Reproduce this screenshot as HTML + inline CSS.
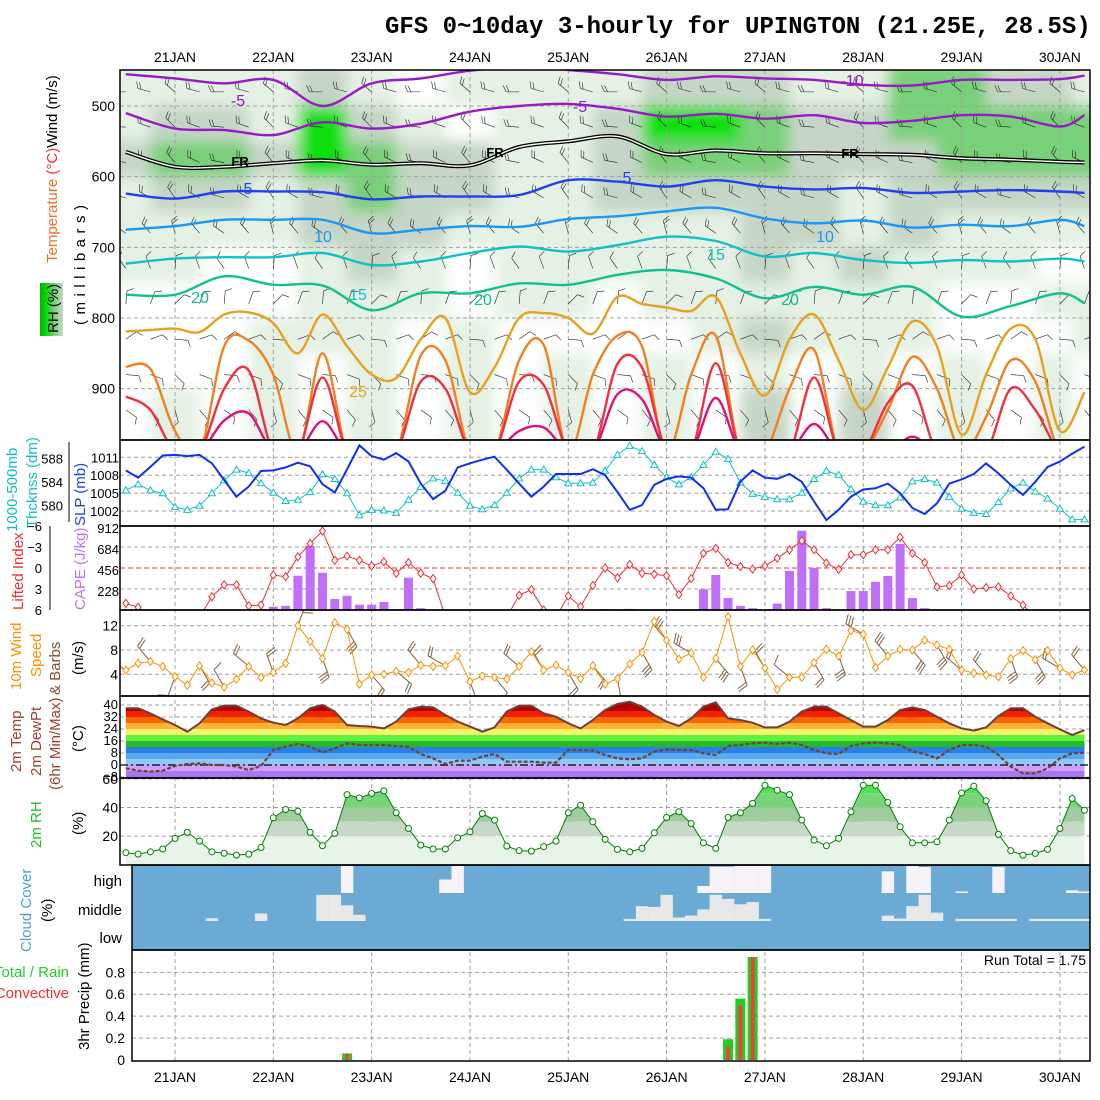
<!DOCTYPE html>
<html><head><meta charset="utf-8"><title>GFS meteogram UPINGTON</title>
<style>
html,body{margin:0;padding:0;background:#fff;}
svg{display:block;font-family:"Liberation Sans",sans-serif;}
</style></head>
<body>
<svg id="chart" xmlns="http://www.w3.org/2000/svg" width="1100" height="1100" viewBox="0 0 1100 1100">
<defs>
<clipPath id="cTop"><rect x="120" y="70" width="970" height="370"/></clipPath>
<clipPath id="cSlp"><rect x="120" y="440" width="970" height="86"/></clipPath>
<clipPath id="cLi"><rect x="120" y="526" width="970" height="84"/></clipPath>
<clipPath id="cW"><rect x="120" y="610" width="970" height="86"/></clipPath>
<clipPath id="cT"><rect x="120" y="696" width="970" height="82"/></clipPath>
<clipPath id="cTempArea"><path id="tempAreaPath" d=""/></clipPath>
<clipPath id="cRhArea"><path id="rhAreaPath" d=""/></clipPath>
<filter id="blur" x="-5%" y="-5%" width="110%" height="110%"><feGaussianBlur stdDeviation="7"/></filter>
<linearGradient id="rhKey" x1="0" y1="0" x2="1" y2="0">
<stop offset="0" stop-color="#00b000"/><stop offset="0.35" stop-color="#10e010"/><stop offset="0.6" stop-color="#78d078"/><stop offset="1" stop-color="#c6d6c6"/></linearGradient>
</defs>
<rect x="0" y="0" width="1100" height="1100" fill="#fff"/>
<text x="385" y="33" font-family="Liberation Mono, monospace" font-weight="bold" font-size="24">GFS 0~10day 3-hourly for UPINGTON (21.25E, 28.5S)</text>

<g id="gTopBg" clip-path="url(#cTop)"><g id="gRh" filter="url(#blur)"></g></g>
<g id="gGrid"></g>
<g id="gTop" clip-path="url(#cTop)"></g>
<g id="gSlp"></g>
<g id="gLi"></g>
<g id="gW"></g>
<g id="gT"></g>
<g id="gRH2"></g>
<g id="gCloud"></g>
<g id="gPr"></g>
<g id="gFrames"></g>
<g id="gLabels"></g>

<g font-size="15">
<text transform="translate(57,263) rotate(-90)"><tspan fill="#f07020">Temperature</tspan><tspan fill="#f03030"> (°C)</tspan><tspan fill="#000">Wind (m/s)</tspan></text>
<rect x="40" y="283" width="23" height="53" fill="url(#rhKey)"/>
<text transform="translate(58,333) rotate(-90)" fill="#000">RH (%)</text>
<text transform="translate(85,325) rotate(-90)" fill="#000" letter-spacing="5.5">(millibars)</text>
<text transform="translate(17,532) rotate(-90)" fill="#10c0c0">1000-500mb</text>
<text transform="translate(37,528) rotate(-90)" fill="#10c0c0">Thcknss (dm)</text>
<text transform="translate(85,526) rotate(-90)" fill="#2040f0">SLP (mb)</text>
<text transform="translate(23,610) rotate(-90)" fill="#f03030">Lifted Index</text>
<text transform="translate(85,610) rotate(-90)" fill="#c070f8">CAPE (J/kg)</text>
<text transform="translate(21,690) rotate(-90)" fill="#ff9000">10m Wind</text>
<text transform="translate(41,677) rotate(-90)" fill="#ff9000">Speed</text>
<text transform="translate(60,695) rotate(-90)" fill="#805030">&amp; Barbs</text>
<text transform="translate(83,675) rotate(-90)" fill="#000">(m/s)</text>
<text transform="translate(21,772) rotate(-90)" fill="#a04030">2m Temp</text>
<text transform="translate(41,776) rotate(-90)" fill="#a04030">2m DewPt</text>
<text transform="translate(60,790) rotate(-90)" fill="#a04030">(6hr Min/Max)</text>
<text transform="translate(83,752) rotate(-90)" fill="#000">(°C)</text>
<text transform="translate(41,848) rotate(-90)" fill="#20c020">2m RH</text>
<text transform="translate(83,835) rotate(-90)" fill="#000">(%)</text>
<text transform="translate(31,952) rotate(-90)" fill="#50a0d8">Cloud Cover</text>
<text transform="translate(52,922) rotate(-90)" fill="#000">(%)</text>
<text x="122" y="886" text-anchor="end">high</text>
<text x="122" y="915" text-anchor="end">middle</text>
<text x="122" y="943" text-anchor="end">low</text>
<text x="69" y="977" text-anchor="end" fill="#20d020">Total / Rain</text>
<text x="69" y="998" text-anchor="end" fill="#f03030">Convective</text>
<text transform="translate(89,1050) rotate(-90)" fill="#000">3hr Precip (mm)</text>
<text x="1086" y="965" text-anchor="end" font-size="14" fill="#000">Run Total = 1.75</text>
</g>
</svg>
<script>
// ---------------- DATA ----------------
const dayLabels=["21JAN","22JAN","23JAN","24JAN","25JAN","26JAN","27JAN","28JAN","29JAN","30JAN"];
const slp=[1008.8,1007.6,1009.4,1011.3,1011.4,1011.2,1011.4,1010,1007.2,1004.4,1006.1,1008.7,1008.8,1009.3,1010.1,1009.5,1006.5,1005.1,1009,1013,1011.2,1010.6,1011.7,1010.3,1006.6,1004,1005.4,1009.3,1010,1010.6,1011.1,1008.9,1006.6,1004.4,1006.1,1008.2,1008.2,1008.2,1009,1008,1005.2,1002.2,1003,1006.4,1007.4,1007.8,1007.6,1005.8,1002.2,1002.3,1006.9,1008.8,1007.6,1007.4,1008.2,1006.9,1003.6,1000.5,1002.2,1004.4,1005.6,1005.8,1006.6,1005,1002.5,1001.5,1003.3,1006.6,1007.3,1008.2,1010,1008.3,1006.4,1004.7,1006.9,1009.4,1010.3,1011.6,1012.8];
const thk=[582.6,583.6,582.6,582.1,579.8,579.3,580,582.1,584.3,586.1,585.5,583.8,582.2,580.8,581,582.3,585.3,584.5,582.1,578.4,579.3,579.2,578.8,581,583.2,584.6,584.2,582.2,580,579.4,580.1,582.2,584.6,586.1,586.1,584.8,583.8,583.8,583.9,585.9,588.6,590.1,589.2,586.9,584.8,583.6,584.8,586.9,589.1,587.9,583.9,582,581.5,581.1,581.1,582.2,584.5,585.9,585.2,582.8,580.7,580.1,580.1,581.4,584.1,584.5,583.9,581.5,579.5,578.8,578.6,580.6,582.9,583.9,582.4,581.2,579.5,577.7,577.7];
const cape=[0,0,0,0,0,0,0,0,0,0,0,0,36,45,372,698,405,119,155,58,58,88,10,351,20,0,0,0,0,0,0,0,0,0,0,0,0,0,0,10,0,12,0,0,0,0,0,225,380,130,45,20,0,70,423,861,456,20,0,206,206,307,370,717,130,20,0,0,0,0,0,0,0,0,0,0,0,0,0];
const li=[5.05,5.6,7,7,7,7,7,4.1,2.4,2.4,5.4,5.3,1.0,1.24,-1.6,-3.5,-5.3,-1.1,-1.7,-1.1,-0.3,-0.9,0.76,-0.8,0.76,1.5,7,7,7,7,7,7,3.9,3.1,6,7,4.0,5.5,2.5,0,1.4,-0.5,0.76,0.9,1.1,3.8,1.5,-2.1,-2.8,-0.8,-0.2,0.14,-0.3,-1.4,-2.6,-3.9,-2.6,-0.7,0.2,-1.9,-1.9,-2.6,-2.6,-4.4,-2.1,-0.8,2.7,2.5,1.0,3.0,2.8,2.7,4.0,5.3,7,7,7,7,7];
const windSpd=[4.7,5.8,6.1,5.3,3.6,2.2,5.4,2.6,1.9,3.2,5.3,3.5,4.3,5.8,12,9.4,6.6,12.5,11.4,2.4,3.9,4,4.5,4.3,5.5,5.3,5.4,7,2.8,3.7,3.5,3.2,5.3,7.7,4.7,5.5,4.3,3.3,5.4,2.4,3.3,5.7,7.6,12.7,9.6,6.5,7.5,3.5,6.6,13.5,5.3,8,5,1.5,3.5,3.5,5.9,8.1,7,11.2,10.6,5.1,7,8.1,8,9.6,8.8,8.1,4.7,4.2,3.9,3.6,6.6,7.9,6.4,7.9,5,3.9,4.7];
const windDir6h=[300,320,200,150,330,310,340,20,160,150,140,130,320,300,160,140,310,330,150,140,170,150,320,300,140,160,330,310,150,160,300,320,140,150,310,320,160,150,300,320];
const temp2m=[37.8,37.8,34.4,30.4,26.7,22.2,27.8,37.1,39.6,39.6,35.6,31.1,28.2,26.7,31.1,37.8,40,35.6,26.7,26,25.6,24.4,28.9,37.1,38.9,38.4,33.3,28.9,25.6,22.2,25.1,35.6,39.6,39.6,34.4,32.2,27.8,24.4,30,36.7,40.7,42.2,38.9,33.3,28.9,26,31.1,38.9,41.8,31.1,30,28.2,25.1,25.1,28.9,35.6,38.9,38.9,34.4,30,25.6,25.6,30,36.7,38.4,36.7,32.2,27.8,24.4,22.9,25.1,32.7,37.8,37.8,32.2,27.8,23.8,20,23.3];
const dew2m=[-2.2,-3.8,-4.4,-3.8,-0.7,0.7,1.1,0,0,-1.1,-3.3,-0.7,10,12.2,14,12.2,8.4,11.1,14.4,13.3,13.3,13.3,12.7,12.2,7.3,4.4,0.7,2.9,2.9,5.6,7.3,2.2,2.2,2.2,1.6,1.6,10,10,9.6,6.7,4.4,3.8,4.4,8.9,10.4,10,10,7.8,6.7,12.7,13.3,14.4,14.9,14,14.9,13.3,10,7.8,7.3,12.7,14.4,14.9,14.4,13.3,8.9,7.3,4.4,10,13.3,13.3,12.2,6.7,-1.1,-5.6,-5.6,-2.2,4.4,7.8,8.2];
const rh2m=[8.4,7.4,9,11,18.4,22.6,16.5,9,8,6.7,7.4,12,32.8,38.6,37.4,22.6,13.3,21.9,49,46.7,49.8,51.6,36.3,25.3,13.7,11,11,18.8,23,35.8,31.2,13,9.8,9.5,12.6,16.5,36.3,41.6,30,17.7,10.7,9,11.4,22.3,33,37,28.8,15.3,11.4,33,36.3,42.8,55.6,52.1,49,31.2,17.2,13.3,18.4,37,55.6,55.6,43.5,26.5,15.3,15.3,16,31.2,50.2,54.9,44.7,21.2,9.8,6.7,7.9,10.7,25.3,46.3,38.1];
const cloudHigh=[0,0,0,0,0,0,0,0,0,0,0,0,0,0,0,0,0,0,100,0,0,0,0,0,0,0,50,100,0,0,0,0,0,0,0,0,0,0,0,0,0,0,0,0,0,0,0,26,97,97,100,100,100,0,0,0,0,0,0,0,0,0,80,0,100,96,0,0,6,0,0,96,0,0,0,0,0,10,6];
const cloudMid=[0,0,0,0,0,0,0,10,0,0,0,28,0,0,0,0,97,97,58,23,0,0,0,0,0,0,0,0,0,0,0,0,0,0,0,0,0,0,0,0,0,8,55,52,97,13,20,43,97,82,62,70,8,0,0,0,0,0,0,0,0,0,20,9,55,97,31,0,8,8,8,8,8,0,8,8,8,8,8];
const precipTotal=[0,0,0,0,0,0,0,0,0,0,0,0,0,0,0,0,0,0,0.06,0,0,0,0,0,0,0,0,0,0,0,0,0,0,0,0,0,0,0,0,0,0,0,0,0,0,0,0,0,0,0.19,0.56,0.94,0,0,0,0,0,0,0,0,0,0,0,0,0,0,0,0,0,0,0,0,0,0,0,0,0,0,0];
const precipConv=[0,0,0,0,0,0,0,0,0,0,0,0,0,0,0,0,0,0,0.06,0,0,0,0,0,0,0,0,0,0,0,0,0,0,0,0,0,0,0,0,0,0,0,0,0,0,0,0,0,0,0.12,0.5,0.94,0,0,0,0,0,0,0,0,0,0,0,0,0,0,0,0,0,0,0,0,0,0,0,0,0,0,0];
const isoIdx=[0,4,8,12,16,20,24,28,32,36,40,44,48,52,56,60,64,68,72,76,78];
const isoM10=[455,461,468,463,500,468,461,450,445,449,455,463,458,461,463,470,471,463,463,462,457];
const isoM5=[510,532,534,541,523,532,525,508,500,497,504,515,511,518,513,524,521,513,515,529,513];
const isoFR=[565,586,586,581,577,583,581,584,558,550,543,568,563,567,567,568,569,574,576,579,580];
const iso5=[624,631,621,621,622,632,628,628,626,605,607,614,605,614,618,616,623,621,619,621,623];
const iso10=[675,670,661,661,661,680,675,670,671,660,656,649,644,659,666,662,672,668,670,661,670];
const iso15=[723,716,714,714,708,725,720,708,699,706,697,685,691,713,708,718,722,718,720,716,720];
const iso20=[767,767,741,753,754,789,765,765,751,753,739,732,744,772,756,767,756,798,783,765,779];
const warmIdx=[0,2,4,6,8,10,12,14,16,18,20,22,24,26,28,30,32,34,36,38,40,42,44,46,48,50,52,54,56,58,60,62,64,66,68,70,72,74,76,78];
const iso25=[819,817,815,820,795,792,807,850,795,840,880,885,830,800,905,870,800,793,800,822,770,780,785,790,770,850,910,830,795,860,930,870,805,840,965,880,815,830,960,905];
const iso30=[869,872,960,990,840,832,880,990,850,990,990,990,853,860,990,990,860,838,990,880,825,840,990,880,825,990,990,900,845,990,990,930,855,900,990,940,860,890,990,990];
const iso35=[911,930,990,990,900,874,990,990,884,990,990,990,890,900,990,990,890,895,990,990,865,870,990,990,864,990,990,990,884,990,990,920,896,990,990,990,900,930,990,990];
const iso40=[990,990,990,990,945,935,990,990,946,990,990,990,985,980,990,990,960,955,990,990,908,915,990,990,913,990,990,990,950,990,990,990,968,990,990,990,990,990,990,990];
const rhLevels=[475,525,575,625,675,725,775,825,875,925,965];
const rh475=[30,35,40,35,60,40,20,35,30,35,40,60,60,55,45,40,75,72,60,55,45];
const rh525=[35,55,60,45,85,55,35,25,30,35,65,85,88,72,55,55,75,72,75,72,72];
const rh575=[50,75,72,60,85,72,60,55,40,30,60,78,75,70,60,60,65,72,72,72,72];
const rh625=[45,60,55,45,65,70,55,55,45,45,55,60,55,55,55,45,55,65,60,60,55];
const rh675=[35,40,35,30,55,55,50,35,35,35,40,40,45,55,55,40,50,45,45,40,40];
const rh725=[35,32,25,28,40,50,35,25,30,35,35,35,40,50,45,50,40,35,35,28,28];
const rh775=[25,22,20,25,35,45,35,25,30,30,25,32,35,40,35,40,35,25,25,30,30];
const rh825=[20,20,20,32,35,40,28,30,25,25,25,25,30,50,35,35,32,25,20,25,30];
const rh875=[25,28,15,35,20,38,20,35,15,35,15,32,15,45,15,45,15,38,15,35,20];
const rh925=[25,30,10,35,15,40,15,35,10,35,10,30,10,50,10,50,10,40,10,35,20];
const rh965=[25,30,10,35,15,40,15,35,10,35,10,30,10,50,10,50,10,40,10,35,20];
const rhGrid=[rh475,rh525,rh575,rh625,rh675,rh725,rh775,rh825,rh875,rh925,rh965];
const barbLevels=[480,530,580,630,680,730,780,830,880,930];
const barbDir=[285,290,295,300,320,340,20,70,110,140];
const barbSpd=[15,14,12,10,8,6,5,6,7,7];

// ---------------- SCALES ----------------
const NS="http://www.w3.org/2000/svg";
const X=i=>175+12.29*(i-4);
const yP=p=>106+(p-500)*0.7067;
const ySlp=v=>457.3+(1011-v)*5.97;
const yThk=v=>458.3+(588-v)*5.93;
const yCape=v=>610-v*84/912;
const yLi=v=>568+v*7;
const yW=v=>674.3-(v-4)*6.08;
const yT=v=>765-v*1.5;
const yRh=v=>864.7-v*1.43;
const yPr=v=>1060-v*109.6;
const L=120,R=1090;
function mk(tag,attrs,parent){const e=document.createElementNS(NS,tag);for(const k in attrs)e.setAttribute(k,attrs[k]);parent.appendChild(e);return e;}
const G=id=>document.getElementById(id);
function pathD(xs,ys){return xs.map((x,k)=>(k?"L":"M")+x.toFixed(1)+","+ys[k].toFixed(1)).join("");}
function smoothD(xs,ys){let d="M"+xs[0].toFixed(1)+","+ys[0].toFixed(1);
  for(let k=0;k<xs.length-1;k++){const x0=xs[Math.max(0,k-1)],y0=ys[Math.max(0,k-1)],x1=xs[k],y1=ys[k],x2=xs[k+1],y2=ys[k+1],x3=xs[Math.min(xs.length-1,k+2)],y3=ys[Math.min(xs.length-1,k+2)];
    d+="C"+(x1+(x2-x0)/6).toFixed(1)+","+(y1+(y2-y0)/6).toFixed(1)+" "+(x2-(x3-x1)/6).toFixed(1)+","+(y2-(y3-y1)/6).toFixed(1)+" "+x2.toFixed(1)+","+y2.toFixed(1);}
  return d;}

// ---------------- GRID ----------------
const gGrid=G("gGrid");
for(let k=0;k<dayLabels.length;k++){
  const x=X(4+8*k);
  const v=mk("line",{x1:x,y1:70,x2:x,y2:1061,stroke:"#a0a0a0","stroke-dasharray":"4,3","stroke-width":1},gGrid);
  
  
  const t1=mk("text",{x:x,y:62,"text-anchor":"middle","font-size":14},G("gLabels"));t1.textContent=dayLabels[k];
  
  
  const t2=mk("text",{x:x,y:1082,"text-anchor":"middle","font-size":14},G("gLabels"));t2.textContent=dayLabels[k];
  
  
}
function hgrid(y,x0,col,dash){const h=mk("line",{x1:x0,y1:y,x2:R,y2:y,stroke:col||"#a0a0a0","stroke-dasharray":dash||"4,3","stroke-width":1},gGrid);
  
  }
function tick(x,y,txt,anchor,fill,fs){const t=mk("text",{x:x,y:y+5,"text-anchor":anchor||"end","font-size":fs||14,fill:fill||"#000"},G("gLabels"));t.textContent=txt;
  
  }
const pTicks=[500,600,700,800,900];
pTicks.forEach(p=>{hgrid(yP(p),L);tick(115,yP(p),String(p));});
const slpTicks=[1011,1008,1005,1002];
slpTicks.forEach(v=>{hgrid(ySlp(v),L);tick(119,ySlp(v),String(v),"end","#000",13);});
const thkTicks=[588,584,580];
thkTicks.forEach(v=>tick(63,yThk(v),String(v),"end","#000",13));
const capeTicks=[912,684,456,228];
capeTicks.forEach(v=>{if(v!==912&&v!==456)hgrid(yCape(v),L);tick(119,yCape(v)+2,String(v),"end","#000",13);});
const liTicks=[-6,-3,0,3,6];
liTicks.forEach(v=>tick(42,yLi(v),v<0?"\u2212"+(-v):String(v),"end","#000",13));
const wTicks=[12,8,4];
wTicks.forEach(v=>{hgrid(yW(v),L);tick(118,yW(v),String(v));});
const tTicks=[40,32,24,16,8,0,-8];
const rhTicks=[60,40,20];
const prTicks=[0.8,0.6,0.4,0.2,0];
prTicks.forEach(v=>{if(v>0)hgrid(yPr(v),132);tick(125,yPr(v),String(v));});
mk("line",{x1:69,y1:442,x2:69,y2:522,stroke:"#000"},G("gFrames"));
mk("line",{x1:50,y1:526,x2:50,y2:610,stroke:"#000"},G("gFrames"));

// ---------------- TOP PANEL ----------------
const gRh=G("gRh");
const rhCol=v=>v<30?null:v<50?"#e4f1e4":v<70?"#c6d6c6":v<80?"#78d078":v<90?"#10e010":"#00a000";
rhGrid.forEach((row,li2)=>{
  const p=rhLevels[li2];
  const p0=li2===0?440:(rhLevels[li2-1]+p)/2, p1=li2===rhLevels.length-1?990:(rhLevels[li2+1]+p)/2;
  row.forEach((v,c)=>{
    const c0=c===0?-4:(isoIdx[c-1]+isoIdx[c])/2, c1=c===row.length-1?84:(isoIdx[c+1]+isoIdx[c])/2;
    const col=rhCol(v); if(!col)return;
    const r=mk("rect",{x:X(c0),y:yP(p0),width:X(c1)-X(c0)+0.5,height:yP(p1)-yP(p0)+0.5,fill:col},gRh);
    
    
  });
});
const gTop=G("gTop");
function barb(g,x,y,dir,spd,len,col,w){
  const a=dir*Math.PI/180, dx=Math.sin(a), dy=-Math.cos(a);
  const x2=x+dx*len, y2=y+dy*len;
  let d="M"+x+","+y+"L"+x2+","+y2;
  const px=-dy, py=dx; let n=Math.max(1,Math.round(spd/5)); let pos=0;
  for(let f=0;f<Math.min(n,3);f++){const bx=x2-dx*pos, by=y2-dy*pos; d+="M"+bx+","+by+"L"+(bx+px*len*0.5+dx*3)+","+(by+py*len*0.5+dy*3); pos+=3;}
  const b=mk("path",{d:d,stroke:col,"stroke-width":w,fill:"none"},g);
  return b;
}
for(let i=0;i<=78;i+=2){
  barbLevels.forEach((p,k)=>{
    const b=barb(gTop,X(i),yP(p),barbDir[k]+(i%8===4?25:0)-(i%8===0?15:0),Math.min(barbSpd[k],10),13,"#222",0.6);
    
    
  });
}
const isoLines=[[isoIdx,isoM10,"#9a18c8"],[isoIdx,isoM5,"#9a18c8"],[isoIdx,iso5,"#2040f0"],[isoIdx,iso10,"#1898f8"],[isoIdx,iso15,"#10c0c8"],[isoIdx,iso20,"#10c090"],[warmIdx,iso25,"#e8a020"],[warmIdx,iso30,"#f08020"],[warmIdx,iso35,"#f03040"],[warmIdx,iso40,"#e0107a"]];
isoLines.forEach(s=>{
  const d=smoothD(s[0].map(X),s[1].map(yP));
  const p=mk("path",{d:d,stroke:s[2],"stroke-width":2.4,fill:"none","stroke-linejoin":"round"},gTop);
  
  
});
const frD=smoothD(isoIdx.map(X),isoFR.map(yP));
const fr1=mk("path",{d:frD,stroke:"#000","stroke-width":4,fill:"none"},gTop);


const fr2=mk("path",{d:frD,stroke:"#fff","stroke-width":1.4,fill:"none"},gTop);


const isoLabels=[["-10",852,86,"#9a18c8"],["-5",580,112,"#9a18c8"],["-5",238,106,"#9a18c8"],["FR",240,166,"#000"],["FR",495,157,"#000"],["FR",850,158,"#000"],["5",248,194,"#2040f0"],["5",627,183,"#2040f0"],["10",323,242,"#1898f8"],["10",825,242,"#1898f8"],["15",358,300,"#10c0c8"],["15",716,260,"#10c0c8"],["20",200,303,"#10c090"],["20",483,305,"#10c090"],["20",790,305,"#10c090"],["25",358,397,"#e8a020"]];
isoLabels.forEach(l=>{const t=mk("text",{x:l[1],y:l[2],"font-size":l[0]==="FR"?13:16,fill:l[3],"text-anchor":"middle","font-weight":l[0]==="FR"?"bold":"normal"},gTop);t.textContent=l[0];
  
  });

// ---------------- SLP / THICKNESS ----------------
const gSlp=G("gSlp");
const idx=slp.map((_,i)=>i);
const th=mk("path",{d:pathD(idx.map(X),thk.map(yThk)),stroke:"#10c0c0","stroke-width":1,fill:"none"},gSlp);


thk.forEach((v,i)=>{const x=X(i),y=yThk(v);
  const m=mk("path",{d:`M${x},${y-3.5}L${x+3.5},${y+2.5}L${x-3.5},${y+2.5}Z`,stroke:"#10c0c0",fill:"#fff","stroke-width":1},gSlp);
  
  });
const sl=mk("path",{d:pathD(idx.map(X),slp.map(ySlp)),stroke:"#1030f0","stroke-width":2,fill:"none"},gSlp);



// ---------------- LI / CAPE ----------------
const gLi=G("gLi");
const li0=mk("line",{x1:L,y1:yLi(0),x2:R,y2:yLi(0),stroke:"#f03030","stroke-dasharray":"5,3"},gLi);


cape.forEach((v,i)=>{if(v<=0)return;
  const b=mk("rect",{x:X(i)-4.5,y:yCape(v),width:9,height:610-yCape(v),fill:"#c070f8"},gLi);
  
  });
const gLiC=mk("g",{"clip-path":"url(#cLi)"},gLi);
const lp=mk("path",{d:pathD(idx.map(X),li.map(yLi)),stroke:"#f03030","stroke-width":1,fill:"none"},gLiC);


li.forEach((v,i)=>{const x=X(i),y=yLi(v);
  const m=mk("path",{d:`M${x},${y-4}L${x+3},${y}L${x},${y+4}L${x-3},${y}Z`,stroke:"#f03030",fill:"#fff"},gLiC);
  
  });

// ---------------- 10m WIND ----------------
const gW=G("gW");
const gWC=mk("g",{"clip-path":"url(#cW)"},gW);
windDir6h.forEach((d,k)=>{const i=k*2;
  const b=barb(gWC,X(i),yW(windSpd[i]),d,windSpd[i]*2,20,"#806040",1);
  
  });
const wp=mk("path",{d:pathD(idx.map(X),windSpd.map(yW)),stroke:"#ff9000","stroke-width":1,fill:"none"},gWC);


windSpd.forEach((v,i)=>{const x=X(i),y=yW(v);
  const m=mk("path",{d:`M${x},${y-4}L${x+3},${y}L${x},${y+4}L${x-3},${y}Z`,stroke:"#ff9000",fill:"#fff"},gWC);
  
  });

// ---------------- TEMPERATURE ----------------
const gT=G("gT");
const tArea=pathD(idx.map(X),temp2m.map(yT))+`L${X(78)},778L${X(0)},778Z`;
G("tempAreaPath").setAttribute("d",tArea);
const bands=[[60,36,"#b00000"],[36,32,"#f02000"],[32,28,"#f86800"],[28,24,"#ffb038"],[24,20,"#f4f468"],[20,16,"#60f040"],[16,12,"#28b828"],[12,8,"#2880e8"],[8,4,"#58a8f0"],[4,0,"#90c8f8"],[0,-4,"#d0a0f8"],[-4,-8,"#a878f0"],[-8,-20,"#8858e0"]];
const gBand=mk("g",{"clip-path":"url(#cTempArea)"},gT);
bands.forEach(b=>{const r=mk("rect",{x:L,y:yT(b[0]),width:R-L,height:yT(b[1])-yT(b[0]),fill:b[2]},gBand);
  
  });
tTicks.forEach(v=>{if(v!==0)hgrid(yT(v),L);tick(118,yT(v)-1,v<0?"\u22128":String(v),"end","#000",13);});
const gTC=mk("g",{"clip-path":"url(#cT)"},gT);
const z=mk("line",{x1:L,y1:yT(0),x2:R,y2:yT(0),stroke:"#000","stroke-dasharray":"8,3,2,3","stroke-width":1.2},gTC);


const tl=mk("path",{d:pathD(idx.map(X),temp2m.map(yT)),stroke:"#704038","stroke-width":2,fill:"none"},gTC);


const dl=mk("path",{d:pathD(idx.map(X),dew2m.map(yT)),stroke:"#704038","stroke-width":2.2,fill:"none","stroke-dasharray":"4,2"},gTC);



// ---------------- RH 2m ----------------
const gR=G("gRH2");
G("rhAreaPath").setAttribute("d",pathD(idx.map(X),rh2m.map(yRh))+`L${X(78)},865L${X(0)},865Z`);
const rhBands=[[20,0,"#e8f4e8"],[30,20,"#c8d8c8"],[40,30,"#a0cca0"],[50,40,"#78d478"],[80,50,"#50e050"]];
const gRB=mk("g",{"clip-path":"url(#cRhArea)"},gR);
rhBands.forEach(b=>{const r=mk("rect",{x:L,y:yRh(b[0]),width:R-L,height:yRh(b[1])-yRh(b[0]),fill:b[2]},gRB);
  
  });
rhTicks.forEach(v=>{hgrid(yRh(v),L);tick(118,yRh(v),String(v));});
const rl=mk("path",{d:pathD(idx.map(X),rh2m.map(yRh)),stroke:"#008000","stroke-width":1,fill:"none"},gR);


rh2m.forEach((v,i)=>{const c=mk("circle",{cx:X(i),cy:yRh(v),r:3,fill:"#fff",stroke:"#008000"},gR);
  
  });

// ---------------- CLOUD ----------------
const gC=G("gCloud");
const cb=mk("rect",{x:132,y:865,width:R-132,height:85,fill:"#6aaad4"},gC);


function cloudRow(arr,bottom,col,name){arr.forEach((v,i)=>{if(v<=0)return;const h=27*v/100;
  const r=mk("rect",{x:X(i)-6.15,y:bottom-h,width:12.4,height:h,fill:col},gC);
  
  });}
cloudRow(cloudHigh,893,"#f6f2f8","high-cloud-cell");
cloudRow(cloudMid,921,"#e8e8e8","middle-cloud-cell");
[893,921].forEach(y=>hgrid(y,132,"#808080"));

// ---------------- PRECIP ----------------
const gPr=G("gPr");
precipTotal.forEach((v,i)=>{if(v<=0)return;
  const b=mk("rect",{x:X(i)-5,y:yPr(v),width:10,height:1060-yPr(v),fill:"#20d020"},gPr);
  
  
  const c=precipConv[i];
  const r=mk("rect",{x:X(i)-2,y:yPr(c),width:4,height:1060-yPr(c),fill:"#f04040"},gPr);
  
  });

// ---------------- FRAMES ----------------
const gF=G("gFrames");
const frames=[[120,70,440],[120,440,526],[120,526,610],[120,610,696],[120,696,778],[120,778,865],[132,865,950],[132,950,1061]];
frames.forEach(f=>{const r=mk("rect",{x:f[0],y:f[1],width:R-f[0],height:f[2]-f[1],fill:"none",stroke:"#000","stroke-width":1.5},gF);
  
  });
</script>
</body></html>
